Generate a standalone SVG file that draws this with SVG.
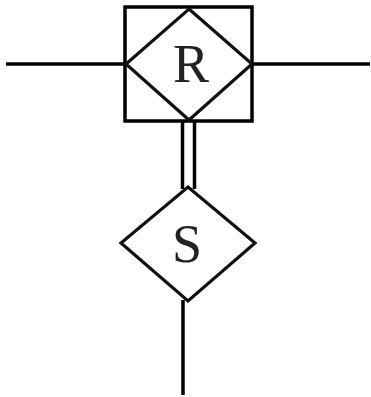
<svg xmlns="http://www.w3.org/2000/svg" width="371" height="397" viewBox="0 0 371 397">
<style>
.ln{stroke:#000;stroke-width:3.5;fill:none}
.sh{stroke:#111;stroke-width:3.2;fill:#fff}
.lb{font-family:"Liberation Serif","Times New Roman",serif;font-size:54px;fill:#222;text-anchor:middle}
</style>
<rect width="371" height="397" fill="#fff"/>
<g id="connectors">
<line class="ln" x1="6" y1="64" x2="126" y2="64"/>
<line class="ln" x1="252" y1="64" x2="370" y2="64"/>
<line class="ln" x1="182.5" y1="121" x2="182.5" y2="189"/>
<line class="ln" x1="194.5" y1="121" x2="194.5" y2="189"/>
<line class="ln" x1="183" y1="300" x2="183" y2="395"/>
</g>
<g id="R">
<rect class="ln" x="125" y="7" width="127" height="114"/>
<polygon class="sh" points="189,9 252,64 189,120 126,64"/>
<text class="lb" x="191" y="82">R</text>
</g>
<g id="S">
<polygon class="sh" points="188,187 255,243 188,301 121,243"/>
<text class="lb" x="187" y="262">S</text>
</g>
</svg>
